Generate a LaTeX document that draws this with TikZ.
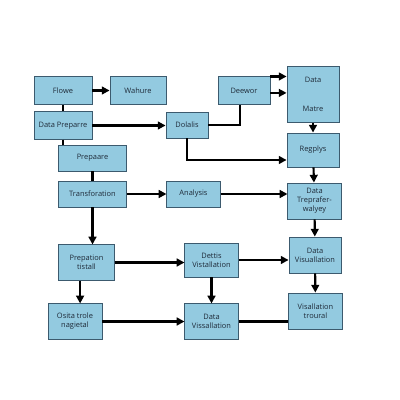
\documentclass[tikz,border=0pt]{standalone}
\usepackage{fontspec}
\setmainfont{Open Sans}
\usepackage{xcolor}
\definecolor{flowblue}{RGB}{147,202,224}
\definecolor{flowedge}{RGB}{60,90,110}
\definecolor{flowtext}{RGB}{30,42,56}
\usetikzlibrary{
  arrows.meta,
  calc
}

\begin{document}
\begin{tikzpicture}[
    x=0.025cm, y=-0.025cm,
    >={Triangle[length=5.5pt,width=5.5pt]},
    box/.style={draw=flowedge, fill=flowblue, line width=0.6pt, align=center,
                inner sep=1pt, font=\fontsize{5.3}{6.4}\selectfont, text=flowtext},
    link/.style={line width=1.5pt, black}
  ]
  \useasboundingbox (0,0) rectangle (400,400);

  %% --- Left column ---
  \node[box, minimum width=1.45cm, minimum height=0.68cm] (flowe) at (63,90.5) {Flowe};
  \node[box, minimum width=1.4cm, minimum height=0.68cm] (wahure) at (138,90.5) {Wahure};
  \node[box, minimum width=1.45cm, minimum height=0.68cm] (prep) at (63,125.5) {Data Preparre};
  \node[box, minimum width=1.68cm, minimum height=0.65cm] (prepaare) at (92.5,158) {Prepaare};
  \node[box, minimum width=1.68cm, minimum height=0.65cm] (transf) at (92.5,194) {Transforation};
  \node[box, minimum width=1.38cm, minimum height=0.88cm] (prepation) at (86.5,262.5) {Prepation\\tistall};
  \node[box, minimum width=1.35cm, minimum height=0.88cm] (osita) at (75,321.5) {Osita trole\\nagietal};

  %% --- Middle column ---
  \node[box, minimum width=1.05cm, minimum height=0.65cm] (dolalis) at (187,125) {Dolalis};
  \node[box, minimum width=1.3cm, minimum height=0.68cm] (deewor) at (244,90.5) {Deewor};
  \node[box, minimum width=1.33cm, minimum height=0.65cm] (analysis) at (193.5,194) {Analysis};
  \node[box, minimum width=1.33cm, minimum height=0.85cm] (dettis) at (211.5,260) {Dettis\\Vistallation};
  \node[box, minimum width=1.33cm, minimum height=0.88cm] (dviss) at (211.5,321.5) {Data\\Vissallation};

  %% --- Right column ---
  \node[box, minimum width=1.3cm, minimum height=1.38cm] (matre) at (313,94.5) {Data\\[14pt]Matre};
  \node[box, minimum width=1.3cm, minimum height=0.85cm] (regplys) at (313,150) {Regplys};
  \node[box, minimum width=1.33cm, minimum height=0.9cm] (trep) at (314.5,201) {Data\\Treprafer-\\walyey};
  \node[box, minimum width=1.3cm, minimum height=0.9cm] (dvis) at (315,255) {Data\\Visuallation};
  \node[box, minimum width=1.33cm, minimum height=0.9cm] (troural) at (315.5,311) {Visallation\\troural};

  %% --- Connections ---
  \draw[link,->] (flowe) -- (wahure);
  \draw[link] (flowe) -- (prep);
  \draw[link,->] (prep.east) -- (prep.east -| dolalis.west);
  \draw[link] (prep.south) -- (prep.south |- prepaare.north);
  \draw[link] (prepaare.south) -- (prepaare.south |- transf.north);
  \draw[link] (dolalis.east) -| ([xshift=-0.1cm]deewor.south);
  \draw[link,->] (deewor.north east) -- (deewor.north east -| matre.west);
  \draw[link,->] ([yshift=-0.06cm]deewor.east) -- ([yshift=-0.06cm]deewor.east -| matre.west);
  \draw[link,->] (dolalis.south) |- ([yshift=-0.25cm]regplys.west);
  \draw[link,->] (matre) -- (regplys);
  \draw[link,->] (regplys) -- (trep);
  \draw[link,->] (transf) -- (analysis);
  \draw[link,->] (analysis.east) -- (analysis.east -| trep.west);
  \draw[link,->] (transf.south) -- (transf.south |- prepation.north);
  \draw[link,->] (prepation.east) -- (prepation.east -| dettis.west);
  \draw[link,->] (trep) -- (dvis);
  \draw[link,->] (dettis.east) -- (dettis.east -| dvis.west);
  \draw[link,->] (dettis) -- (dviss);
  \draw[link,->] ([xshift=-0.16cm]prepation.south) -- ([xshift=-0.16cm]prepation.south |- osita.north);
  \draw[link,->] (osita) -- (dviss);
  \draw[link] (dviss.east) -- (dviss.east -| troural.west);
  \draw[link,->] (dvis) -- (troural);
\end{tikzpicture}
\end{document}
